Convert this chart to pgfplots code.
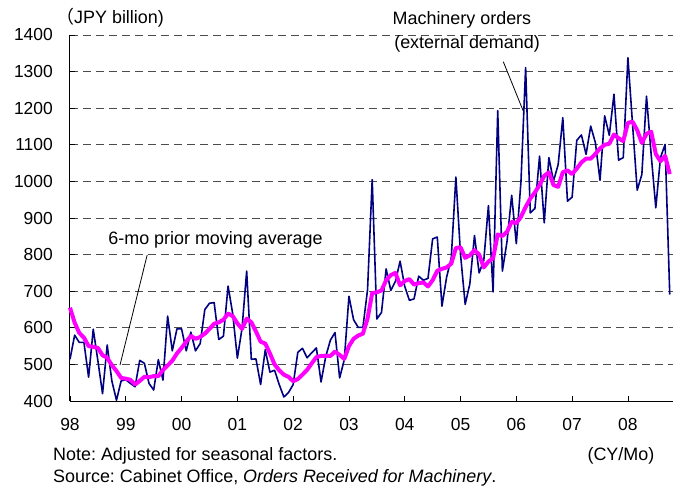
\documentclass[border=0pt]{standalone}
\usepackage{fontspec}
\setmainfont{Liberation Sans}
\newfontfamily\cjk{Noto Sans CJK JP}
\usepackage{pgfplots}
\pgfplotsset{compat=1.18}
\usepackage{pgfplotstable}
\definecolor{navyline}{RGB}{0,0,128}
\definecolor{magline}{RGB}{255,0,255}

\pgfplotstableread{
i v
0 514
1 580
2 560
3 560
4 465
5 596
6 510
7 420
8 553
9 455
10 402
11 455
12 458
13 448
14 439
15 511
16 503
17 448
18 430
19 513
20 457
21 632
22 537
23 597
24 597
25 537
26 588
27 537
28 557
29 650
30 667
31 669
32 568
33 577
34 714
35 638
36 517
37 598
38 755
39 514
40 515
41 445
42 540
43 479
44 484
45 445
46 411
47 423
48 445
49 533
50 544
51 518
52 532
53 545
54 452
55 521
56 566
57 587
58 463
59 513
60 686
61 622
62 601
63 601
64 704
65 1005
66 624
67 642
68 761
69 702
70 727
71 782
72 713
73 675
74 679
75 741
76 730
77 735
78 843
79 848
80 659
81 738
82 790
83 1012
84 800
85 664
86 720
87 852
88 750
89 784
90 934
91 698
92 1193
93 755
94 836
95 962
96 830
97 1000
98 1311
99 914
100 926
101 1069
102 887
103 1065
104 1001
105 1046
106 1174
107 946
108 957
109 1112
110 1127
111 1074
112 1151
113 1106
114 1003
115 1179
116 1126
117 1238
118 1058
119 1065
120 1338
121 1156
122 976
123 1019
124 1233
125 1074
126 928
127 1065
128 1101
129 691
}\orders

\pgfplotstableread{
i v
0 655
1 614
2 586
3 573
4 550
5 548
6 545
7 525
8 518
9 498
10 482
11 463
12 461
13 458
14 445
15 455
16 466
17 465
18 468
19 468
20 485
21 497
22 510
23 530
24 545
25 562
26 578
27 570
28 575
29 584
30 597
31 611
32 615
33 622
34 639
35 632
36 612
37 597
38 625
39 615
40 590
41 562
42 557
43 530
44 500
45 484
46 472
47 466
48 454
49 460
50 472
51 485
52 503
53 520
54 523
55 523
56 523
57 535
58 526
59 515
60 550
61 570
62 579
63 584
64 625
65 695
66 697
67 702
68 730
69 744
70 750
71 716
72 728
73 733
74 718
75 722
76 724
77 713
78 730
79 756
80 761
81 765
82 775
83 818
84 820
85 791
86 798
87 812
88 800
89 765
90 781
91 790
92 855
93 851
94 862
95 890
96 886
97 903
98 930
99 953
100 970
101 990
102 1015
103 1025
104 990
105 985
106 1025
107 1030
108 1020
109 1035
110 1052
111 1062
112 1062
113 1075
114 1090
115 1100
116 1103
117 1128
118 1118
119 1110
120 1160
121 1163
122 1140
123 1105
124 1130
125 1136
126 1075
127 1055
128 1070
129 1020
}\mavg

\begin{document}
\frenchspacing
\fontsize{18}{21}\selectfont
\begin{tikzpicture}
\begin{axis}[
  scale only axis, width=603bp, height=366bp,
  xmin=0, xmax=129.7, ymin=400, ymax=1400,
  axis x line*=bottom, axis y line*=left,
  xtick={0,12,...,120},
  xticklabels={98,99,00,01,02,03,04,05,06,07,08},
  ytick={400,500,...,1400},
  ymajorgrids,
  major grid style={dash pattern=on 8bp off 5bp, black!70, line width=0.9bp},
  tick align=inside, major tick length=5bp,
  tick style={black, line width=0.8bp},
  axis line style={black, line width=1bp},
  every tick label/.append style={font=\fontsize{17.5}{20}\selectfont},
  xticklabel style={yshift=-11bp},
  yticklabel style={xshift=-11bp},
  /pgf/number format/assume math mode=true,
  /pgf/number format/1000 sep={},
  clip=false,
]
\addplot[navyline, line width=1.6bp, line join=round] table[x=i,y=v]{\orders};
\addplot[magline, line width=4bp, line join=round] table[x=i,y=v]{\mavg};

\node[anchor=center, inner sep=0] at (axis cs:84.3,1441) {Machinery orders};
\node[anchor=center, inner sep=0] at (axis cs:85.4,1375) {(external demand)};
\draw[black, line width=0.8bp] (axis cs:93.2,1327) -- (axis cs:97.5,1192);

\node[anchor=center, inner sep=0] at (axis cs:31.3,840) {6-mo prior moving average};
\draw[black, line width=0.8bp] (axis cs:16.6,799) -- (axis cs:10.75,498);

\node[anchor=west, inner sep=0] at (axis cs:-3.0,1446) {{\cjk （}JPY billion)};

\node[anchor=west, inner sep=0] at (axis cs:-3.66,250) {Note: Adjusted for seasonal factors.};
\node[anchor=center, inner sep=0] at (axis cs:118.5,250) {(CY/Mo)};
\node[anchor=west, inner sep=0] at (axis cs:-3.66,189) {Source: Cabinet Office, \textit{Orders Received for Machinery}.};
\end{axis}
\pgfresetboundingbox
\path[use as bounding box] ([shift={(-70bp,-85bp)}]current axis.south west) rectangle ([shift={(0bp,35bp)}]current axis.north east);
\end{tikzpicture}
\end{document}
